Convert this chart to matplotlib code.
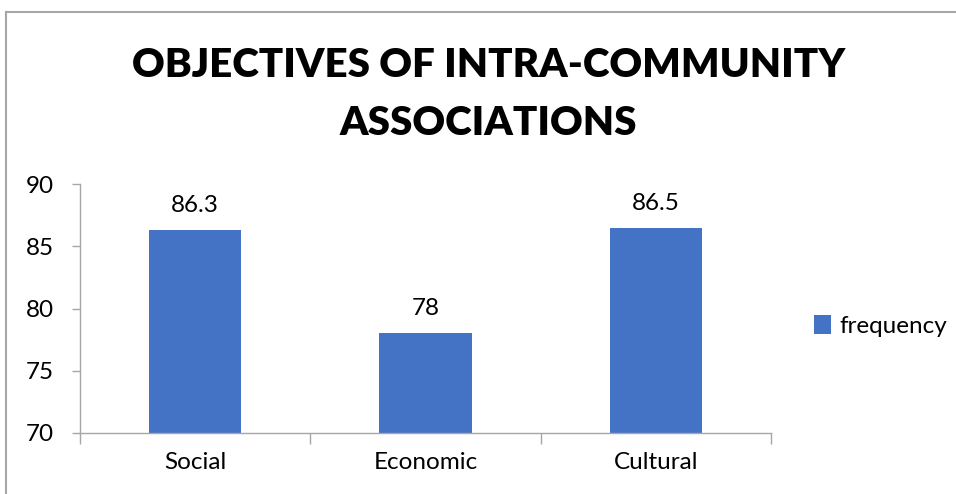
import numpy as np
import matplotlib.pyplot as plt
from matplotlib.lines import Line2D

categories = ['Social', 'Economic', 'Cultural']
frequency = [86.3, 78, 86.5]
yticks = [70, 75, 80, 85, 90]

bar_color = '#4472C4'
axis_gray = '#A6A6A6'
font = 'Lato'
fs = 17.5

fig = plt.figure(figsize=(9.56, 4.94), dpi=100)
ax = fig.add_axes([0.0837, 0.1235, 0.7228, 0.504])

x = np.arange(len(categories))
bars = ax.bar(x, np.array(frequency) - 70, bottom=70, width=0.4,
              color=bar_color, label='frequency')
for xi, v in zip(x, frequency):
    ax.annotate(f'{v:g}', (xi, v), xytext=(0, 13), textcoords='offset points',
                ha='center', va='baseline', fontsize=fs, family=font)

ax.set_xlim(-0.5, 2.5)
ax.set_ylim(70, 90)
ax.set_yticks(yticks)
ax.set_yticklabels([str(t) for t in yticks], fontsize=fs, family=font)

# category boundaries get the ticks, names sit in between
ax.set_xticks([-0.5, 0.5, 1.5, 2.5])
ax.set_xticklabels([])
ax.set_xticks(x, minor=True)
ax.set_xticklabels(categories, minor=True, fontsize=fs, family=font)
ax.tick_params(axis='x', which='major', length=8, color=axis_gray, width=1)
ax.tick_params(axis='x', which='minor', length=0, pad=14)
ax.tick_params(axis='y', length=6, color=axis_gray, width=1, pad=13)

for side in ['top', 'right']:
    ax.spines[side].set_visible(False)
for side in ['left', 'bottom']:
    ax.spines[side].set_color(axis_gray)
    ax.spines[side].set_linewidth(1)

fig.text(0.511, 0.809, 'OBJECTIVES OF INTRA-COMMUNITY\nASSOCIATIONS',
         ha='center', va='center', fontsize=29, fontweight='heavy',
         family=font, linespacing=1.7)

ax.legend(loc='center left', bbox_to_anchor=(1.03, 0.43), frameon=False,
          prop={'family': font, 'size': fs},
          handlelength=0.72, handleheight=0.8, handletextpad=0.35)

# chart area outline
fig.add_artist(Line2D([6 / 956, 1], [1 - 12 / 494, 1 - 12 / 494],
                      color=axis_gray, lw=1.5, transform=fig.transFigure))
fig.add_artist(Line2D([6 / 956, 6 / 956], [0, 1 - 12 / 494],
                      color=axis_gray, lw=1.5, transform=fig.transFigure))

fig.savefig('out.png', dpi=100)
